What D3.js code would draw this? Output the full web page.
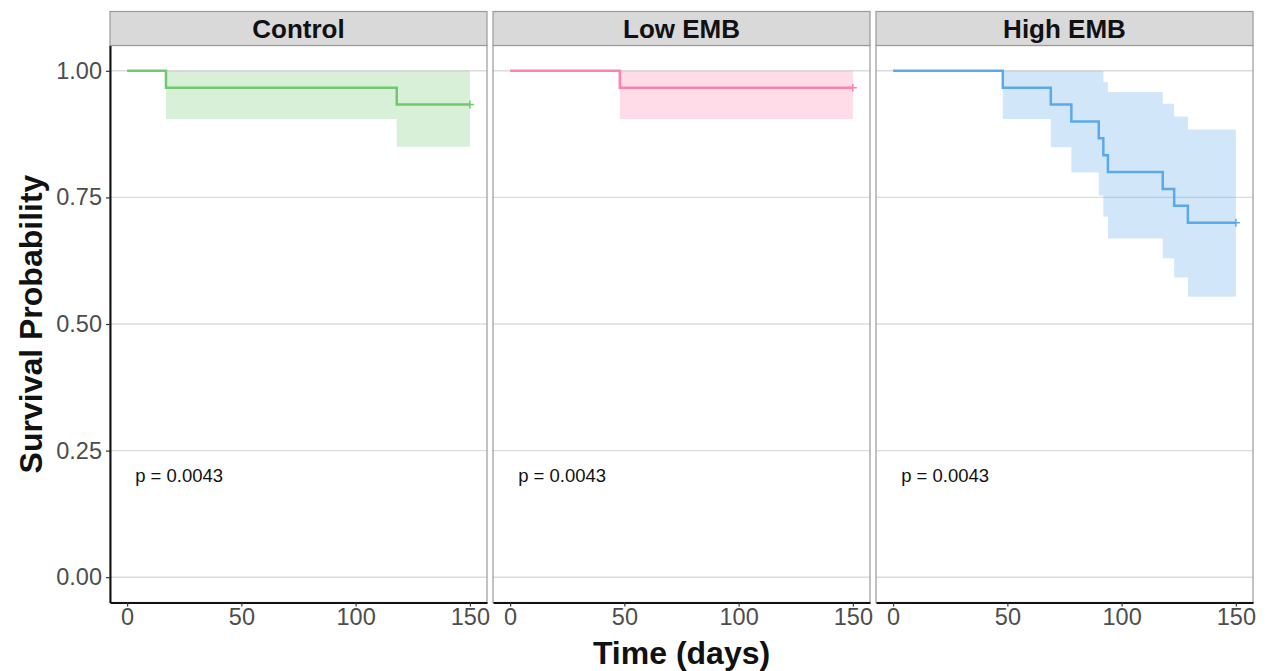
<!DOCTYPE html>
<html>
<head>
<meta charset="utf-8">
<script src="https://cdn.jsdelivr.net/npm/d3@7"></script>
<style>
	body { margin: 0; background: #fff; }
	svg { font-family: "Liberation Sans", Arial, sans-serif; }
</style>
</head>
<body>
<svg id="chart" width="1267" height="671"></svg>
<script>
const groups = ["Control", "Low EMB", "High EMB"];
const lineColors = ["#6fc96f", "#ff82a9", "#5aa9ea"];
const yTicks = [0, 0.25, 0.5, 0.75, 1];
const yTickLabels = ["0.00", "0.25", "0.50", "0.75", "1.00"];
const xTicks = [0, 50, 100, 150];
const pLabel = "p = 0.0043";

// step curves: value after each time point
const controlTime = [0, 17, 118, 150];
const controlSurv = [1, 0.9667, 0.9333, 0.9333];
const controlUpper = [1, 1, 1, 1];
const controlLower = [1, 0.905, 0.85, 0.85];

const lowTime = [0, 48, 150];
const lowSurv = [1, 0.9667, 0.9667];
const lowUpper = [1, 1, 1];
const lowLower = [1, 0.905, 0.905];

const highTime = [0, 48, 69, 78, 90, 92, 94, 118, 123, 129, 150];
const highSurv = [1, 0.9667, 0.9333, 0.9, 0.8667, 0.8333, 0.8, 0.7667, 0.7333, 0.7, 0.7];
const highUpper = [1, 1, 1, 1, 1, 0.978, 0.958, 0.935, 0.91, 0.884, 0.884];
const highLower = [1, 0.905, 0.849, 0.799, 0.754, 0.712, 0.669, 0.63, 0.592, 0.554, 0.554];

const curves = [
	{ time: controlTime, surv: controlSurv, upper: controlUpper, lower: controlLower },
	{ time: lowTime, surv: lowSurv, upper: lowUpper, lower: lowLower },
	{ time: highTime, surv: highSurv, upper: highUpper, lower: highLower },
];

const svg = d3.select("#chart");

const panelLeft = 110;
const panelW = 377;
const panelStep = 383;
const plotTop = 45.5;
const plotBottom = 602.5;
const stripTop = 11.5;

const y = d3.scaleLinear().domain([-0.05, 1.05]).range([plotBottom, plotTop]);

groups.forEach((name, i) => {
	const x0 = panelLeft + i * panelStep;
	const x = d3.scaleLinear().domain([-7.5, 157.5]).range([x0, x0 + panelW]);
	const g = svg.append("g");
	const c = curves[i];
	const pts = c.time.map((t, k) => ({ t: t, s: c.surv[k], u: c.upper[k], l: c.lower[k] }));

	// gridlines
	g.selectAll(".grid")
		.data(yTicks)
		.enter()
		.append("line")
		.attr("x1", x0)
		.attr("x2", x0 + panelW)
		.attr("y1", (d) => y(d))
		.attr("y2", (d) => y(d))
		.attr("stroke", "#dcdcdc")
		.attr("stroke-width", 1.4);

	// confidence ribbon
	const area = d3.area()
		.curve(d3.curveStepAfter)
		.x((d) => x(d.t))
		.y0((d) => y(d.l))
		.y1((d) => y(d.u));
	g.append("path")
		.datum(pts)
		.attr("d", area)
		.attr("fill", lineColors[i])
		.attr("fill-opacity", 0.28);

	// survival step line
	const line = d3.line()
		.curve(d3.curveStepAfter)
		.x((d) => x(d.t))
		.y((d) => y(d.s));
	g.append("path")
		.datum(pts)
		.attr("d", line)
		.attr("fill", "none")
		.attr("stroke", lineColors[i])
		.attr("stroke-width", 2.5);

	// censor mark at end
	const last = pts[pts.length - 1];
	g.append("path")
		.attr("d", `M${x(last.t) - 4},${y(last.s)}h8M${x(last.t)},${y(last.s) - 4}v8`)
		.attr("stroke", lineColors[i])
		.attr("stroke-width", 1.5);

	// p value
	g.append("text")
		.attr("x", x(3.5))
		.attr("y", y(0.2))
		.attr("dy", "0.35em")
		.attr("font-size", 18.5)
		.attr("fill", "#111")
		.text(pLabel);

	// panel border
	g.append("rect")
		.attr("x", x0)
		.attr("y", plotTop)
		.attr("width", panelW)
		.attr("height", plotBottom - plotTop)
		.attr("fill", "none")
		.attr("stroke", "#9a9a9a")
		.attr("stroke-width", 1.2);

	// strip
	g.append("rect")
		.attr("x", x0)
		.attr("y", stripTop)
		.attr("width", panelW)
		.attr("height", plotTop - stripTop)
		.attr("fill", "#d9d9d9")
		.attr("stroke", "#9a9a9a")
		.attr("stroke-width", 1.2);
	g.append("text")
		.attr("x", x0 + panelW / 2)
		.attr("y", (stripTop + plotTop) / 2)
		.attr("dy", "0.36em")
		.attr("text-anchor", "middle")
		.attr("font-size", 26)
		.attr("font-weight", "bold")
		.attr("fill", "#111")
		.text(name);

	// x axis
	const xAxis = g.append("g")
		.attr("transform", `translate(0,${plotBottom})`)
		.call(d3.axisBottom(x).tickValues(xTicks).tickSize(4).tickSizeOuter(0).tickPadding(2));
	xAxis.select(".domain").attr("stroke", "#111").attr("stroke-width", 2);
	xAxis.selectAll(".tick line").attr("stroke", "#333").attr("stroke-width", 1.2);
	xAxis.selectAll(".tick text").attr("font-size", 23.5).attr("fill", "#4d4d4d");
	xAxis.attr("font-family", null);

	if (i === 0) {
		const yAxis = g.append("g")
			.attr("transform", `translate(${x0},0)`)
			.call(d3.axisLeft(y).tickValues(yTicks).tickFormat((d, k) => yTickLabels[k]).tickSize(4).tickSizeOuter(0).tickPadding(4));
		yAxis.select(".domain").attr("stroke", "#111").attr("stroke-width", 2);
		yAxis.selectAll(".tick line").attr("stroke", "#333").attr("stroke-width", 1.2);
		yAxis.selectAll(".tick text").attr("font-size", 23.5).attr("fill", "#4d4d4d");
		yAxis.attr("font-family", null);
	}
});

// axis titles
svg.append("text")
	.attr("x", (panelLeft + panelLeft + 2 * panelStep + panelW) / 2)
	.attr("y", 664)
	.attr("text-anchor", "middle")
	.attr("font-size", 32)
	.attr("font-weight", "bold")
	.attr("fill", "#111")
	.text("Time (days)");

svg.append("text")
	.attr("transform", `translate(42,${(plotTop + plotBottom) / 2}) rotate(-90)`)
	.attr("text-anchor", "middle")
	.attr("font-size", 32)
	.attr("font-weight", "bold")
	.attr("fill", "#111")
	.text("Survival Probability");
</script>
</body>
</html>
